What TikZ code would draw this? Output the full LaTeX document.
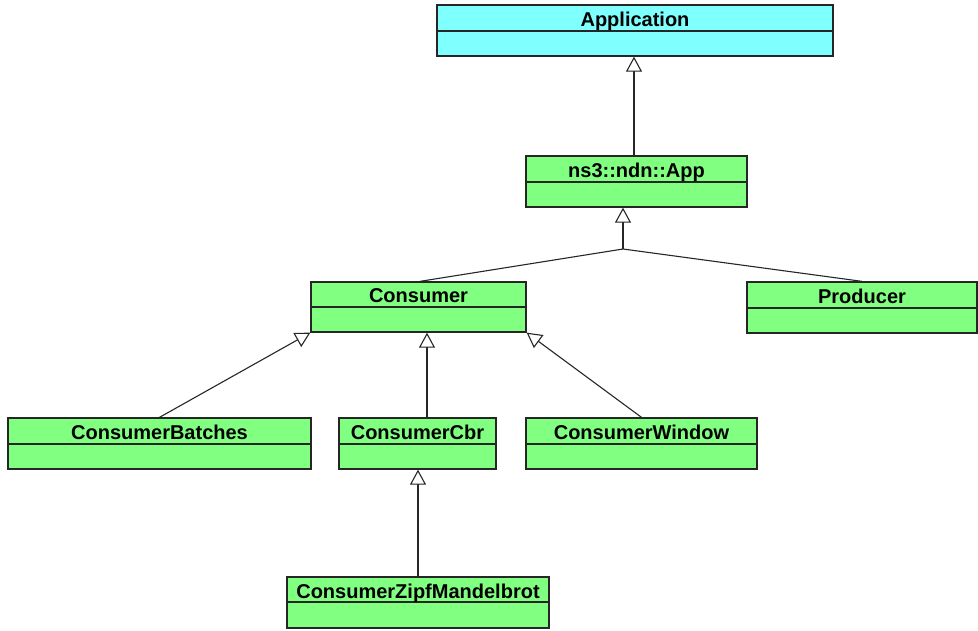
\documentclass[tikz,border=0pt]{standalone}
\usepackage{fontspec}
\setmainfont{Liberation Sans}
\usetikzlibrary{arrows.meta}
\definecolor{clscyan}{HTML}{80FFFF}
\definecolor{clsgreen}{HTML}{80FF80}
\tikzset{
  cls/.style={draw=black!85, line width=1.3pt, rectangle, inner sep=0pt, fill=clsgreen},
  clstext/.style={font=\fontsize{20}{22}\selectfont\bfseries, inner sep=0pt, anchor=base},
  divline/.style={draw=black!85, line width=1.3pt},
  inh/.style={draw=black!85, line width=1.1pt, -{Triangle[open, length=15pt, width=16pt, fill=white]}},
  conn/.style={draw=black!85, line width=1.1pt}
}
\begin{document}
\begin{tikzpicture}[x=1pt, y=-1pt]
\useasboundingbox (0,0) rectangle (978,630);
% Application
\node[cls, fill=clscyan, minimum width=396pt, minimum height=51pt] (app) at (635,30.5) {};
\draw[divline] (app.west |- 0,31) -- (app.east |- 0,31);
\node[clstext] (appt) at (635,26) {Application};
% ns3::ndn::App
\node[cls, minimum width=221pt, minimum height=51pt] (ns3) at (636.5,181.5) {};
\draw[divline] (ns3.west |- 0,182) -- (ns3.east |- 0,182);
\node[clstext] (ns3t) at (636.5,177) {ns3::ndn::App};
% Consumer
\node[cls, minimum width=215pt, minimum height=50pt] (cons) at (418.5,307) {};
\draw[divline] (cons.west |- 0,307) -- (cons.east |- 0,307);
\node[clstext] (const) at (418.5,302.5) {Consumer};
% Producer
\node[cls, minimum width=230pt, minimum height=51pt] (prod) at (862,307.5) {};
\draw[divline] (prod.west |- 0,308) -- (prod.east |- 0,308);
\node[clstext] (prodt) at (862,303) {Producer};
% ConsumerBatches
\node[cls, minimum width=303pt, minimum height=51pt] (batch) at (159.5,443.5) {};
\draw[divline] (batch.west |- 0,444) -- (batch.east |- 0,444);
\node[clstext] (batcht) at (159.5,439) {ConsumerBatches};
% ConsumerCbr
\node[cls, minimum width=157pt, minimum height=51pt] (cbr) at (417.5,443.5) {};
\draw[divline] (cbr.west |- 0,444) -- (cbr.east |- 0,444);
\node[clstext] (cbrt) at (417.5,439) {ConsumerCbr};
% ConsumerWindow
\node[cls, minimum width=231pt, minimum height=51pt] (win) at (641.5,443.5) {};
\draw[divline] (win.west |- 0,444) -- (win.east |- 0,444);
\node[clstext] (wint) at (641.5,439) {ConsumerWindow};
% ConsumerZipfMandelbrot
\node[cls, minimum width=262pt, minimum height=51pt] (zipf) at (418,602.5) {};
\draw[divline] (zipf.west |- 0,602) -- (zipf.east |- 0,602);
\node[clstext] (zipft) at (418,598) {ConsumerZipfMandelbrot};
% connectors
\draw[inh] ([xshift=-1pt]ns3.north -| app.south) -- ([xshift=-1pt]app.south);
\coordinate (j) at (623,249);
\draw[inh] (j) -- (ns3.south -| j);
\draw[conn] ([xshift=1.5pt]cons.north) -- (j) -- (prod.north);
\draw[inh] (batch.north) -- (cons.south west);
\draw[inh] ([xshift=9.5pt]cbr.north) -- ([xshift=9.5pt]cbr.north |- cons.south);
\draw[inh] (win.north) -- (cons.south east);
\draw[inh] (zipf.north) -- (zipf.north |- cbr.south);
\end{tikzpicture}
\end{document}
